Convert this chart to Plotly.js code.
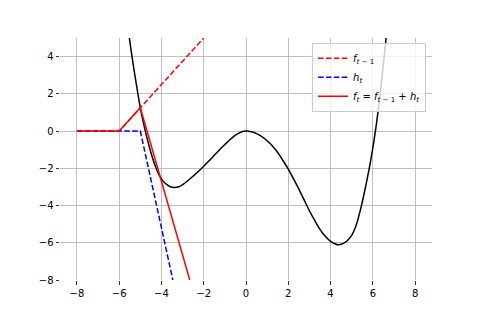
<!DOCTYPE html>
<html>
<head>
<meta charset="utf-8">
<script src="https://cdn.plot.ly/plotly-3.0.1.min.js"></script>
<style>html,body{margin:0;padding:0;background:#fff;}#chart{width:480px;height:320px;}</style>
</head>
<body>
<div id="chart"></div>
<script>
// Black curve (loss function)
const curveX = [-5.52, -5.4, -5.25, -5.1, -5.0, -4.85, -4.7, -4.5, -4.3, -4.07, -3.85, -3.6, -3.39, -3.15, -2.84, -2.5, -2.08, -1.75, -1.5, -1.25, -1.0, -0.75, -0.5, -0.25, 0.0,
                0.25, 0.5, 0.75, 1.0, 1.25, 1.5, 1.75, 2.0, 2.25, 2.5, 2.75, 3.0, 3.25, 3.5, 3.75, 4.0, 4.2, 4.34, 4.5, 4.75, 5.0, 5.2, 5.41, 5.6, 5.84, 6.0, 6.11, 6.22, 6.4, 6.63];
const curveY = [5.0, 4.05, 2.95, 1.9, 1.25, 0.43, -0.3, -1.15, -1.85, -2.45, -2.78, -2.98, -3.03, -2.98, -2.75, -2.42, -1.98, -1.6, -1.3, -1.0, -0.72, -0.45, -0.22, -0.06, 0.0,
                -0.04, -0.14, -0.3, -0.52, -0.8, -1.15, -1.58, -2.04, -2.57, -3.12, -3.7, -4.28, -4.8, -5.28, -5.65, -5.92, -6.05, -6.1, -6.08, -5.93, -5.6, -5.1, -4.25, -3.3, -1.95, -0.9, -0.1, 0.8, 2.5, 5.0];

// f_{t-1}
const fPrevX = [-8, -6, -2];
const fPrevY = [0, 0, 5];
// h_t
const hX = [-8, -5, -3.46];
const hY = [0, 0, -8];
// f_t = f_{t-1} + h_t
const fX = [-8, -6, -5, -2.66];
const fY = [0, 0, 1.25, -8];

const xTicks = [-8, -6, -4, -2, 0, 2, 4, 6, 8];
const xTickText = ["\u22128", "\u22126", "\u22124", "\u22122", "0", "2", "4", "6", "8"];
const yTicks = [-8, -6, -4, -2, 0, 2, 4];
const yTickText = ["\u22128", "\u22126", "\u22124", "\u22122", "0", "2", "4"];

const legendNames = [
  "<i>f</i><sub><i>t</i> \u2212 1</sub>",
  "<i>h</i><sub><i>t</i></sub>",
  "<i>f</i><sub><i>t</i></sub> = <i>f</i><sub><i>t</i> \u2212 1</sub> + <i>h</i><sub><i>t</i></sub>"
];

const traces = [
  {x: curveX, y: curveY, mode: 'lines', line: {color: '#000000', width: 1.5, shape: 'spline', smoothing: 0.8}, showlegend: false, hoverinfo: 'skip'},
  {x: fPrevX, y: fPrevY, mode: 'lines', name: legendNames[0], line: {color: '#ff0000', width: 1.5, dash: '5.5px,2.4px'}},
  {x: hX, y: hY, mode: 'lines', name: legendNames[1], line: {color: '#0000ff', width: 1.5, dash: '5.5px,2.4px'}},
  {x: fX, y: fY, mode: 'lines', name: legendNames[2], line: {color: '#ff0000', width: 1.5}}
];

const axisCommon = {
  showline: false, zeroline: false, showgrid: true,
  gridcolor: '#b0b0b0', gridwidth: 0.8,
  ticks: 'outside', ticklen: 3.5, tickwidth: 0.8, tickcolor: '#000000',
  tickfont: {family: 'DejaVu Sans', size: 10, color: '#000000'},
  tickmode: 'array'
};

const layout = {
  width: 480, height: 320,
  margin: {l: 60, r: 48, t: 38, b: 40},
  paper_bgcolor: '#ffffff', plot_bgcolor: '#ffffff',
  font: {family: 'DejaVu Sans', size: 10, color: '#000000'},
  xaxis: Object.assign({}, axisCommon, {range: [-8.8, 8.8], tickvals: xTicks, ticktext: xTickText}),
  yaxis: Object.assign({}, axisCommon, {range: [-8, 5], tickvals: yTicks, ticktext: yTickText}),
  legend: {
    x: 0.984, y: 0.98, xanchor: 'right', yanchor: 'top',
    bgcolor: 'rgba(255,255,255,0.8)', bordercolor: '#cccccc', borderwidth: 1,
    font: {family: 'DejaVu Sans', size: 10, color: '#000000'},
    tracegroupgap: 0
  },
  showlegend: true
};

Plotly.newPlot('chart', traces, layout, {staticPlot: true, displayModeBar: false});
</script>
</body>
</html>
